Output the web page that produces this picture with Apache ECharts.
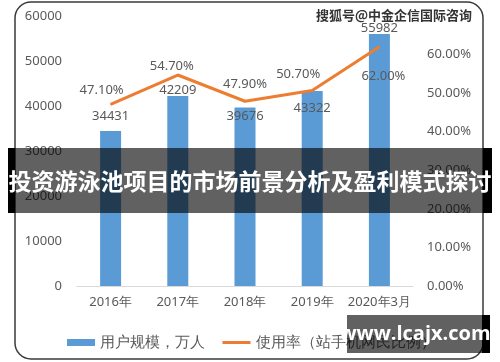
<!DOCTYPE html>
<html><head><meta charset="utf-8">
<script src="https://cdn.jsdelivr.net/npm/echarts@6/dist/echarts.min.js"></script>
<style>html,body{margin:0;padding:0;background:#fff}#c{width:500px;height:362px}</style>
</head><body><div id="c"></div>
<script>
const categories = ['2016年','2017年','2018年','2019年','2020年3月'];
const users = [34431, 42209, 39676, 43322, 55982];
const usageRate = [47.1, 54.7, 47.9, 50.7, 62.0];
const barSeriesName = '用户规模，万人';
const lineSeriesName = '使用率（站手机网民比例）';
const leftTicks = {min: 0, max: 60000, interval: 10000};
const rightTicks = {min: 0, max: 70, interval: 10};

// label placement (style only)
const barLabelOffsets = [[0,-3],[0,6],[0,20],[0,29],[0,6]];
const lineLabelCfg = [
  {position:'top', offset:[-9,-2]},
  {position:'top', offset:[-6,3]},
  {position:'top', offset:[0,-5]},
  {position:'top', offset:[-14,-4]},
  {position:'bottom', offset:[4,17]}
];

const txt = '#595959';
const font = 'Noto Sans';
const chart = echarts.init(document.getElementById('c'));
chart.setOption({
  animation: false,
  textStyle: {fontFamily: font},
  grid: {left: 77, right: 87, top: 16, bottom: 76},
  legend: {
    left: 62, top: 330, itemWidth: 28, itemHeight: 7, itemGap: 16,
    textStyle: {color: txt, fontSize: 15, fontFamily: font},
    data: [{name: barSeriesName, icon: 'rect'}, {name: lineSeriesName, itemStyle: {opacity: 0}, lineStyle: {width: 3}}]
  },
  xAxis: {
    type: 'category', data: categories,
    axisLine: {lineStyle: {color: '#d9d9d9'}},
    axisTick: {show: false},
    axisLabel: {color: txt, fontSize: 13, margin: 10, interval: 0}
  },
  yAxis: [
    {type: 'value', min: leftTicks.min, max: leftTicks.max, interval: leftTicks.interval,
     splitLine: {show: false}, axisLine: {show: false}, axisTick: {show: false},
     axisLabel: {color: txt, fontSize: 13, margin: 15, formatter: v => String(v)}},
    {type: 'value', min: rightTicks.min, max: rightTicks.max, interval: rightTicks.interval,
     splitLine: {show: false}, axisLine: {show: false}, axisTick: {show: false},
     axisLabel: {color: txt, fontSize: 13, margin: 14, showMaxLabel: false,
       formatter: v => v.toFixed(2) + '%'}}
  ],
  series: [
    {name: barSeriesName, type: 'bar', barWidth: 21,
     itemStyle: {color: '#5B9BD5'},
     data: users.map((v, i) => ({value: v, label: {offset: barLabelOffsets[i]}})),
     label: {show: true, position: 'top', distance: 5, color: txt, fontSize: 13}},
    {name: lineSeriesName, type: 'line', yAxisIndex: 1, symbol: 'circle', symbolSize: 1, showSymbol: true,
     lineStyle: {color: '#ED7D31', width: 3}, itemStyle: {color: '#ED7D31'},
     data: usageRate.map((v, i) => ({value: v, label: {position: lineLabelCfg[i].position, offset: lineLabelCfg[i].offset}})),
     label: {show: true, distance: 5, color: txt, fontSize: 13, formatter: p => p.value.toFixed(2) + '%'}}
  ],
  graphic: [
    {type: 'rect', z: -10, silent: true, shape: {x: 15, y: 2, width: 468, height: 357, r: 16},
     style: {fill: '#fff', stroke: '#3a3a3a', lineWidth: 1.5}},
    {type: 'rect', z: 100, shape: {x: 8, y: 148, width: 7, height: 65}, style: {fill: '#000'}},
    {type: 'rect', z: 100, shape: {x: 483, y: 148, width: 9, height: 65}, style: {fill: '#000'}},
    {type: 'rect', z: 100, shape: {x: 15, y: 148, width: 468, height: 65}, style: {fill: 'rgba(0,0,0,0.62)'}},
    {type: 'text', z: 101, x: 250, y: 181,
     style: {text: '投资游泳池项目的市场前景分析及盈利模式探讨', fill: '#fff', font: 'bold 23px "Noto Sans CJK SC"', align: 'center', verticalAlign: 'middle'}},
    {type: 'text', z: 101, x: 472, y: 15,
     style: {text: '搜狐号@中金企信国际咨询', fill: '#333', stroke: '#fff', lineWidth: 2, font: 'bold 13px "Noto Sans CJK SC"', align: 'right', verticalAlign: 'middle'}},
    {type: 'rect', z: 100, shape: {x: 347, y: 315, width: 135, height: 38}, style: {fill: 'rgba(0,0,0,0.62)'}},
    {type: 'rect', z: 100, shape: {x: 482, y: 315, width: 8, height: 38}, style: {fill: '#000'}},
    {type: 'text', z: 101, x: 415, y: 334,
     style: {text: 'www.lcajx.com', fill: '#fff', font: 'bold 20px "Open Sans"', align: 'center', verticalAlign: 'middle'}}
  ]
});
</script></body></html>
